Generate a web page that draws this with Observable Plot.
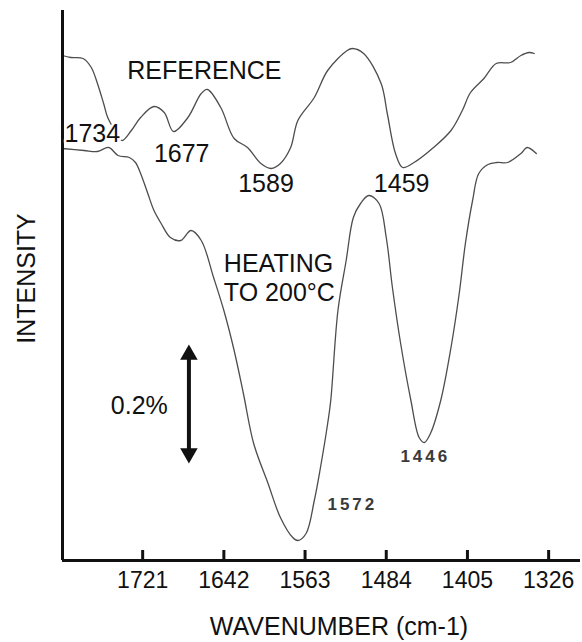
<!DOCTYPE html>
<html>
<head>
<meta charset="utf-8">
<script src="https://cdn.jsdelivr.net/npm/d3@7"></script>
<script src="https://cdn.jsdelivr.net/npm/@observablehq/plot@0.6"></script>
<style>
  html, body { margin: 0; padding: 0; background: #fff; }
  #chart svg { display: block; }
</style>
</head>
<body>
<div id="chart"></div>
<script>
// Wavenumber (cm-1) and intensity (arbitrary units)
const refWavenumber = [1799,1791,1779,1771,1765,1759,1755,1748,1741,1732,1723,1710,1700,1691,1677,1664,1658,1645,1632,1619,1606,1596,1587,1577,1570,1554,1541,1522,1517,1506,1489,1483,1475,1468,1457,1438,1421,1410,1402,1389,1377,1363,1353,1345,1340];
const refIntensity  = [505,503,502,493,477,457,443,430,420,430,443,454,448,429,443,467,471,453,422,413,397,392,397,413,440,463,490,510,512,507,477,447,407,393,398,413,430,450,468,482,497,498,505,508,507];

const heatWavenumber = [1799,1778,1765,1754,1745,1734,1728,1723,1716,1710,1703,1694,1684,1674,1664,1652,1642,1632,1623,1613,1599,1587,1575,1570,1562,1554,1548,1541,1538,1531,1523,1516,1509,1501,1491,1484,1478,1470,1460,1452,1447,1441,1431,1421,1413,1407,1400,1394,1385,1376,1366,1353,1347,1338];
const heatIntensity  = [412,410,409,413,405,403,398,387,367,350,337,323,320,330,320,283,250,210,167,117,77,43,23,20,27,60,93,137,160,250,300,343,357,365,357,323,273,217,160,123,118,127,160,213,267,317,360,387,396,398,398,407,413,407];

const tickValues = [1721, 1642, 1563, 1484, 1405, 1326];

// annotations (left-aligned)
const leftLabels = [
  {text: "REFERENCE", wn: 1736, y: 490},
  {text: "1734", wn: 1797, y: 427},
  {text: "HEATING", wn: 1642, y: 297},
  {text: "TO 200°C", wn: 1642, y: 268},
  {text: "0.2%", wn: 1752, y: 155}
];
// peak labels (centred)
const peakLabels = [
  {text: "1677", wn: 1683, y: 407},
  {text: "1589", wn: 1601, y: 377},
  {text: "1459", wn: 1469, y: 377}
];
const smallLabels = [
  {text: "1572", wn: 1517, y: 56},
  {text: "1446", wn: 1446, y: 104}
];
// scale bar: 0.2% of intensity
const scaleBar = {wn: 1676, from: 98, to: 215};

const toRows = (xs, ys) => xs.map((x, i) => ({wn: x, v: ys[i]}));
const refData = toRows(refWavenumber, refIntensity);
const heatData = toRows(heatWavenumber, heatIntensity);

const ink = "#111";
const curveColor = "#4d4d4d";
const halo = {stroke: "#fff", strokeWidth: 5, paintOrder: "stroke"};

const chart = Plot.plot({
  width: 582,
  height: 642,
  marginLeft: 62,
  marginRight: 2,
  marginTop: 10,
  marginBottom: 82,
  style: {fontFamily: "'Liberation Sans', Arial, sans-serif", background: "#fff", color: ink},
  x: {domain: [1799, 1295], axis: null},
  y: {domain: [0, 550], axis: null},
  marks: [
    Plot.line(refData, {x: "wn", y: "v", stroke: curveColor, strokeWidth: 1.3, curve: "catmull-rom"}),
    Plot.line(heatData, {x: "wn", y: "v", stroke: curveColor, strokeWidth: 1.3, curve: "catmull-rom"}),
    // axes lines
    Plot.ruleY([0], {stroke: ink, strokeWidth: 3}),
    Plot.ruleX([1799], {y1: 0, y2: 550, stroke: ink, strokeWidth: 3}),
    // inward ticks
    Plot.ruleX(tickValues, {x: d => d, y1: d => 0, y2: d => 10, stroke: ink, strokeWidth: 3}),
    // tick labels
    Plot.text(tickValues, {x: d => d, y: d => -20, text: d => String(d), fontSize: 23, fill: ink}),
    // axis titles
    Plot.text(["WAVENUMBER (cm-1)"], {x: d => 1530, y: d => -66, text: d => d, fontSize: 25, fill: ink}),
    Plot.text(["INTENSITY"], {frameAnchor: "left", dx: -36, y: d => 282, text: d => d, rotate: -90,
      textAnchor: "middle", fontSize: 25, fill: ink}),
    // annotations
    Plot.text(leftLabels, {x: "wn", y: "y", text: "text", textAnchor: "start", fontSize: 25, fill: ink, ...halo}),
    Plot.text(peakLabels, {x: "wn", y: "y", text: "text", textAnchor: "middle", fontSize: 25, fill: ink, ...halo}),
    Plot.text(smallLabels, {x: "wn", y: "y", text: "text", fontSize: 17, fontWeight: "bold", fill: "#3a3a3a"}),
    // scale bar (double arrow)
    Plot.ruleX([scaleBar], {x: "wn", y1: d => d.from + 9, y2: d => d.to - 9, stroke: ink, strokeWidth: 4}),
    Plot.dot([scaleBar], {x: "wn", y: d => d.to - 9.2, symbol: "triangle", r: 6.5, fill: ink, stroke: "none"}),
    Plot.dot([scaleBar], {x: "wn", y: d => d.from + 9.2, symbol: "triangle", r: 6.5, rotate: 180, fill: ink, stroke: "none"})
  ]
});
const smallTexts = smallLabels.map(d => d.text);
d3.select(chart).selectAll("text")
  .filter(function() { return smallTexts.includes(this.textContent); })
  .style("letter-spacing", "3px");
document.getElementById("chart").appendChild(chart);
</script>
</body>
</html>
